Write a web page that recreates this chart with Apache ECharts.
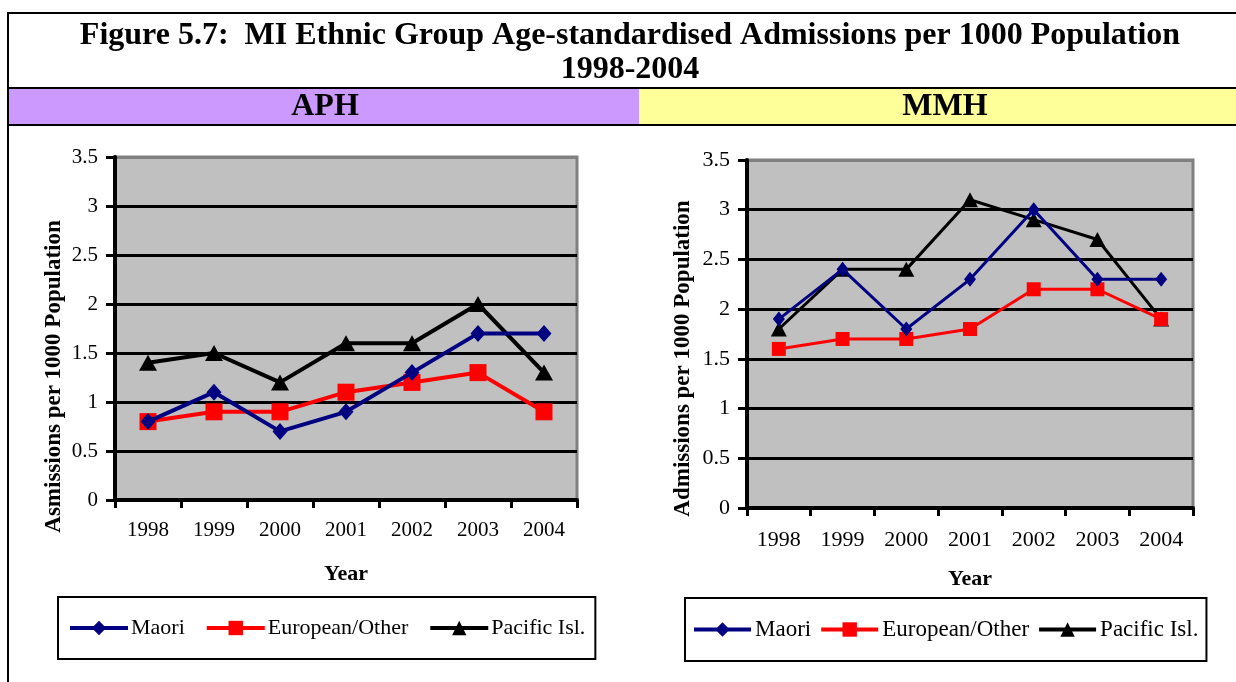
<!DOCTYPE html>
<html>
<head>
<meta charset="utf-8">
<script src="https://cdn.jsdelivr.net/npm/echarts@6/dist/echarts.min.js"></script>
<style>
  html, body { margin: 0; padding: 0; background: #fff; }
  #main { width: 1236px; height: 682px; }
</style>
</head>
<body>
<div id="main"></div>
<script>
// 数据
const years = ['1998', '1999', '2000', '2001', '2002', '2003', '2004'];
const seriesNames = ['Maori', 'European/Other', 'Pacific Isl.'];

const aphMaori = [0.8, 1.1, 0.7, 0.9, 1.3, 1.7, 1.7];
const aphEuropean = [0.8, 0.9, 0.9, 1.1, 1.2, 1.3, 0.9];
const aphPacific = [1.4, 1.5, 1.2, 1.6, 1.6, 2.0, 1.3];

const mmhMaori = [1.9, 2.4, 1.8, 2.3, 3.0, 2.3, 2.3];
const mmhEuropean = [1.6, 1.7, 1.7, 1.8, 2.2, 2.2, 1.9];
const mmhPacific = [1.8, 2.4, 2.4, 3.1, 2.9, 2.7, 1.9];

const serif = "'Liberation Serif', 'Times New Roman', serif";
const colors = ['#000080', '#ff0000', '#000000'];
const symbols = ['diamond', 'rect', 'triangle'];

/**
 * 坐标轴配置
 */
function makeAxes(gridIndex, opts) {
  const xAxis = {
    type: 'category',
    gridIndex: gridIndex,
    data: years,
    boundaryGap: true,
    name: 'Year',
    nameLocation: 'middle',
    nameGap: opts.xNameGap,
    nameTextStyle: { fontFamily: serif, fontSize: 22, fontWeight: 'bold', color: '#000' },
    axisLine: { lineStyle: { color: '#000', width: 4 } },
    axisTick: { show: true, interval: 0, length: 8, lineStyle: { color: '#000', width: 3 } },
    axisLabel: { fontFamily: serif, fontSize: opts.fontSize, color: '#000', margin: opts.xMargin, interval: 0 },
    splitLine: { show: false }
  };
  const yAxis = {
    type: 'value',
    gridIndex: gridIndex,
    min: 0,
    max: 3.5,
    interval: 0.5,
    name: opts.yName,
    nameLocation: 'middle',
    nameGap: opts.yNameGap,
    nameTextStyle: {
      fontFamily: serif, fontSize: 23, fontWeight: 'bold', color: '#000',
      padding: [0, opts.yNameShift, 0, 0]
    },
    axisLine: { show: true, lineStyle: { color: '#000', width: 4 } },
    axisTick: { show: true, length: 9, lineStyle: { color: '#000', width: 3 } },
    axisLabel: { fontFamily: serif, fontSize: opts.fontSize, color: '#000', margin: 17 },
    splitLine: {
      show: true,
      lineStyle: {
        color: ['#000', '#000', '#000', '#000', '#000', '#000', '#000', '#808080'],
        width: 3
      }
    }
  };
  return { xAxis, yAxis };
}

/**
 * 折线系列
 */
function makeSeries(axisIndex, dataList, lineWidth, sizes) {
  return dataList.map((data, i) => ({
    name: seriesNames[i],
    type: 'line',
    xAxisIndex: axisIndex,
    yAxisIndex: axisIndex,
    data: data,
    symbol: symbols[i],
    symbolSize: sizes[i],
    z: 10 - i,
    lineStyle: { color: colors[i], width: lineWidth },
    itemStyle: { color: colors[i], borderWidth: 0 },
    emphasis: { disabled: true },
    animation: false
  }));
}

const left = makeAxes(0, {
  yName: 'Asmissions per 1000 Population', yNameGap: 49, yNameShift: 96,
  xNameGap: 63, xMargin: 20, fontSize: 21
});
const right = makeAxes(1, {
  yName: 'Admissions per 1000 Population', yNameGap: 52, yNameShift: 49,
  xNameGap: 60, xMargin: 21, fontSize: 22
});

function legendStyle(x, y, fontSize, gap, padding, textGap, iconWidth) {
  return {
    data: seriesNames,
    left: x,
    top: y,
    orient: 'horizontal',
    itemWidth: iconWidth,
    itemHeight: 18,
    itemGap: gap,
    padding: padding,
    borderColor: '#000',
    borderWidth: 2,
    backgroundColor: '#fff',
    selectedMode: false,
    lineStyle: { width: 4 },
    textStyle: { fontFamily: serif, fontSize: fontSize, color: '#000', padding: [0, 0, 0, textGap] }
  };
}

const headFont = "bold 32px 'Liberation Serif', 'Times New Roman', serif";

const chartOpts = {
  backgroundColor: '#fff',
  animation: false,
  graphic: [
    // 外框与表头
    { type: 'rect', shape: { x: 8, y: 88, width: 631, height: 37 }, style: { fill: '#cc99ff' } },
    { type: 'rect', shape: { x: 639, y: 88, width: 600, height: 37 }, style: { fill: '#ffff99' } },
    { type: 'line', shape: { x1: 8, y1: 13, x2: 1236, y2: 13 }, style: { stroke: '#000', lineWidth: 2 } },
    { type: 'line', shape: { x1: 8, y1: 88, x2: 1236, y2: 88 }, style: { stroke: '#000', lineWidth: 2 } },
    { type: 'line', shape: { x1: 8, y1: 125, x2: 1236, y2: 125 }, style: { stroke: '#000', lineWidth: 2 } },
    { type: 'line', shape: { x1: 8, y1: 12, x2: 8, y2: 682 }, style: { stroke: '#000', lineWidth: 2 } },
    {
      type: 'text', x: 630, y: 36,
      style: {
        text: 'Figure 5.7:  MI Ethnic Group Age-standardised Admissions per 1000 Population',
        font: headFont, fill: '#000', align: 'center', verticalAlign: 'middle'
      }
    },
    {
      type: 'text', x: 630, y: 70,
      style: { text: '1998-2004', font: headFont, fill: '#000', align: 'center', verticalAlign: 'middle' }
    },
    {
      type: 'text', x: 325, y: 107,
      style: { text: 'APH', font: headFont, fill: '#000', align: 'center', verticalAlign: 'middle' }
    },
    {
      type: 'text', x: 945, y: 107,
      style: { text: 'MMH', font: headFont, fill: '#000', align: 'center', verticalAlign: 'middle' }
    }
  ],
  grid: [
    { left: 115, top: 157, width: 462, height: 343, show: true, backgroundColor: '#c0c0c0', borderColor: '#808080', borderWidth: 3 },
    { left: 747, top: 160, width: 446, height: 348, show: true, backgroundColor: '#c0c0c0', borderColor: '#808080', borderWidth: 3 }
  ],
  xAxis: [left.xAxis, right.xAxis],
  yAxis: [left.yAxis, right.yAxis],
  legend: [
    legendStyle(58, 597, 22, 20, [20, 10, 20, 10], -2, 58),
    legendStyle(685, 598, 23, 8, [20, 8, 20, 7], -1, 57)
  ],
  series: [
    ...makeSeries(0, [aphMaori, aphEuropean, aphPacific], 4, [[15, 17], 17, [18, 16]]),
    ...makeSeries(1, [mmhMaori, mmhEuropean, mmhPacific], 3, [[12, 15], 14, [16, 15]])
  ]
};

const chart = echarts.init(document.getElementById('main'));
chart.setOption(chartOpts);
</script>
</body>
</html>
